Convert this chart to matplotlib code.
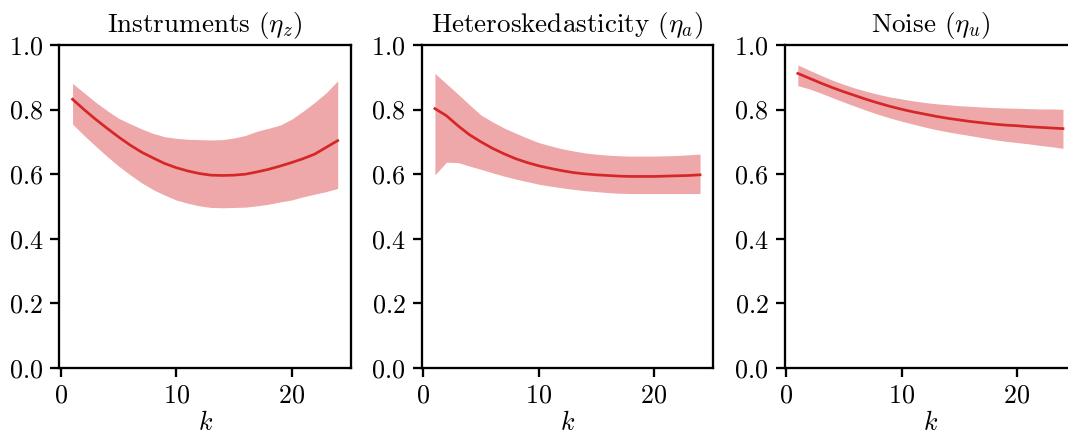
import numpy as np
import matplotlib
matplotlib.use("Agg")
import matplotlib.pyplot as plt

# ---------------- Style setup ----------------
plt.rcParams.update({
    "font.family": "serif",
    "font.serif": ["cmr10", "DejaVu Serif"],
    "mathtext.fontset": "cm",
    "axes.formatter.use_mathtext": True,
    "axes.titlesize": 13,
    "axes.labelsize": 12.5,
    "xtick.labelsize": 12.5,
    "ytick.labelsize": 12.5,
    "axes.linewidth": 1.1,
    "xtick.major.width": 1.1,
    "ytick.major.width": 1.1,
    "xtick.major.size": 4.2,
    "ytick.major.size": 4.2,
})

# ---------------- Data ----------------
k = np.arange(1, 25)

inst_mean = [0.832, 0.800, 0.770, 0.742, 0.715, 0.690, 0.668, 0.650, 0.633, 0.620, 0.610, 0.602,
             0.597, 0.596, 0.597, 0.600, 0.607, 0.615, 0.625, 0.636, 0.648, 0.662, 0.683, 0.704]
inst_hi = [0.881, 0.852, 0.823, 0.797, 0.773, 0.756, 0.740, 0.726, 0.716, 0.711, 0.708, 0.707,
           0.706, 0.707, 0.712, 0.720, 0.733, 0.742, 0.752, 0.770, 0.795, 0.822, 0.852, 0.889]
inst_lo = [0.755, 0.720, 0.687, 0.655, 0.625, 0.598, 0.573, 0.552, 0.535, 0.520, 0.510, 0.502,
           0.497, 0.496, 0.497, 0.498, 0.502, 0.507, 0.514, 0.520, 0.530, 0.538, 0.546, 0.556]

het_mean = [0.803, 0.781, 0.750, 0.722, 0.700, 0.680, 0.663, 0.648, 0.636, 0.626, 0.618, 0.611,
            0.605, 0.601, 0.598, 0.596, 0.594, 0.593, 0.593, 0.593, 0.594, 0.595, 0.596, 0.598]
het_hi = [0.912, 0.880, 0.848, 0.815, 0.783, 0.762, 0.743, 0.727, 0.712, 0.698, 0.688, 0.679,
          0.672, 0.666, 0.662, 0.659, 0.657, 0.656, 0.656, 0.656, 0.657, 0.658, 0.660, 0.662]
het_lo = [0.598, 0.637, 0.636, 0.625, 0.615, 0.604, 0.594, 0.585, 0.577, 0.569, 0.563, 0.558,
          0.553, 0.549, 0.546, 0.543, 0.541, 0.540, 0.540, 0.540, 0.540, 0.540, 0.540, 0.540]

noise_mean = [0.912, 0.897, 0.882, 0.868, 0.855, 0.843, 0.831, 0.820, 0.810, 0.801, 0.793, 0.786,
              0.779, 0.773, 0.768, 0.763, 0.759, 0.755, 0.752, 0.750, 0.747, 0.745, 0.743, 0.741]
noise_hi = [0.938, 0.922, 0.906, 0.891, 0.878, 0.866, 0.856, 0.847, 0.839, 0.833, 0.827, 0.822,
            0.818, 0.815, 0.812, 0.810, 0.808, 0.806, 0.805, 0.804, 0.803, 0.802, 0.802, 0.801]
noise_lo = [0.874, 0.864, 0.851, 0.837, 0.823, 0.810, 0.797, 0.785, 0.774, 0.764, 0.755, 0.746,
            0.738, 0.731, 0.725, 0.719, 0.713, 0.707, 0.702, 0.698, 0.694, 0.689, 0.685, 0.680]

titles = [r"Instruments ($\eta_z$)", r"Heteroskedasticity ($\eta_a$)", r"Noise ($\eta_u$)"]
panels = [(inst_mean, inst_lo, inst_hi),
          (het_mean, het_lo, het_hi),
          (noise_mean, noise_lo, noise_hi)]

# ---------------- Plot ----------------
fig = plt.figure(figsize=(7.12, 2.8667), dpi=150)
lefts = [0.0555, 0.3948, 0.7346]
for left, title, (mean, lo, hi) in zip(lefts, titles, panels):
    ax = fig.add_axes([left, 0.1442, 0.2731, 0.7512])
    ax.fill_between(k, lo, hi, color="tab:red", alpha=0.4, linewidth=0)
    ax.plot(k, mean, color="tab:red", lw=1.3)
    ax.set_ylim(0, 1)
    ax.set_yticks([0.0, 0.2, 0.4, 0.6, 0.8, 1.0])
    ax.set_xticks([0, 10, 20])
    ax.set_xlabel(r"$k$", labelpad=1.5)
    ax.set_title(title)

fig.savefig("out.png", dpi=150)
